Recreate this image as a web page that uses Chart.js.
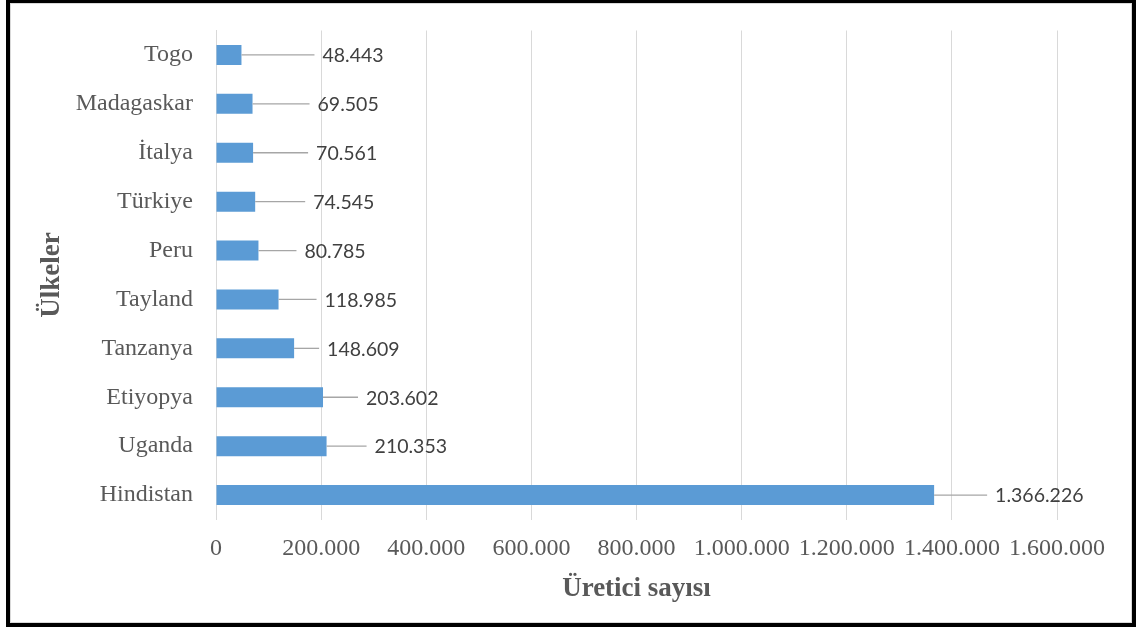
<!DOCTYPE html>
<html lang="tr">
<head>
<meta charset="utf-8">
<title>Üretici sayısı - Ülkeler</title>
<script src="https://cdn.jsdelivr.net/npm/chart.js@4.4.1/dist/chart.umd.min.js"></script>
<style>
    html, body { margin: 0; padding: 0; background: #fff; }
    #wrap { position: relative; width: 1136px; height: 629px; overflow: hidden; }
    #chartBox { position: absolute; left: 0; top: 0; width: 1136px; height: 629px; }
    #frame {
        position: absolute; left: 6px; top: -1px; width: 1130px; height: 628px;
        box-sizing: border-box; border: 4px solid #000; pointer-events: none;
        box-shadow: inset 0 0 0 1px #d9d9d9;
    }
</style>
</head>
<body>
<div id="wrap">
    <div id="chartBox"><canvas id="producerChart"></canvas></div>
    <div id="frame"></div>
</div>
<script>
// Üretici sayısı per country, top to bottom
const countries = ['Togo', 'Madagaskar', 'İtalya', 'Türkiye', 'Peru', 'Tayland', 'Tanzanya', 'Etiyopya', 'Uganda', 'Hindistan'];
const producers = [48443, 69505, 70561, 74545, 80785, 118985, 148609, 203602, 210353, 1366226];
const xTicks = [0, 200000, 400000, 600000, 800000, 1000000, 1200000, 1400000, 1600000];

// distance (px) from bar end to its value label; the gap is bridged by a leader line
const labelGaps = [81, 65, 63, 58, 46, 46, 33, 43, 48, 61];

const GRID = '#d9d9d9';
const TEXT = '#595959';

function formatDots(v) {
    return String(v).replace(/\B(?=(\d{3})+(?!\d))/g, '.');
}

// value labels with leader lines, drawn after the bars
const leaderLabels = {
    id: 'leaderLabels',
    afterDatasetsDraw(chart) {
        const ctx = chart.ctx;
        const meta = chart.getDatasetMeta(0);
        ctx.save();
        ctx.font = '19.5px Lato';
        ctx.fillStyle = '#404040';
        ctx.textAlign = 'left';
        ctx.textBaseline = 'middle';
        meta.data.forEach((bar, i) => {
            const labelX = bar.x + labelGaps[i];
            ctx.strokeStyle = '#a6a6a6';
            ctx.lineWidth = 1.3;
            ctx.beginPath();
            ctx.moveTo(bar.x, bar.y);
            ctx.lineTo(labelX - 8, bar.y);
            ctx.stroke();
            ctx.fillText(formatDots(producers[i]), labelX, bar.y + 1);
        });
        ctx.restore();
    }
};

const ctx = document.getElementById('producerChart');
new Chart(ctx, {
    type: 'bar',
    data: {
        labels: countries,
        datasets: [{
            data: producers,
            backgroundColor: '#5b9bd5',
            borderWidth: 0,
            barPercentage: 0.41,
            categoryPercentage: 1
        }]
    },
    options: {
        indexAxis: 'y',
        responsive: true,
        maintainAspectRatio: false,
        animation: false,
        layout: { padding: { top: 30.5, right: 79, bottom: 0, left: 0 } },
        plugins: {
            legend: { display: false },
            tooltip: { enabled: false }
        },
        scales: {
            x: {
                min: 0,
                max: 1600000,
                afterBuildTicks: scale => { scale.ticks = xTicks.map(v => ({ value: v })); },
                afterFit: scale => { scale.height = 109.5; },
                grid: { color: GRID, lineWidth: 1, drawTicks: false },
                border: { display: false },
                ticks: {
                    padding: 15,
                    color: TEXT,
                    maxRotation: 0,
                    autoSkip: false,
                    font: { family: 'Liberation Serif', size: 24 },
                    callback: v => formatDots(v)
                },
                title: {
                    display: true,
                    text: 'Üretici sayısı',
                    color: TEXT,
                    padding: { top: 0, bottom: 24 },
                    font: { family: 'Liberation Serif', size: 27, weight: 'bold' }
                }
            },
            y: {
                afterFit: scale => {
                    scale.width = 216;
                    // the label padding would otherwise push the plot area down
                    scale.paddingTop = 0;
                    scale.paddingBottom = 0;
                },
                grid: { display: false, drawTicks: false },
                border: { color: GRID, width: 1 },
                ticks: {
                    padding: 23,
                    color: TEXT,
                    font: { family: 'Liberation Serif', size: 24 }
                },
                title: {
                    display: true,
                    text: 'Ülkeler',
                    color: TEXT,
                    padding: { top: 36, bottom: 0 },
                    font: { family: 'Liberation Serif', size: 27, weight: 'bold' }
                }
            }
        }
    },
    plugins: [leaderLabels]
});
</script>
</body>
</html>
